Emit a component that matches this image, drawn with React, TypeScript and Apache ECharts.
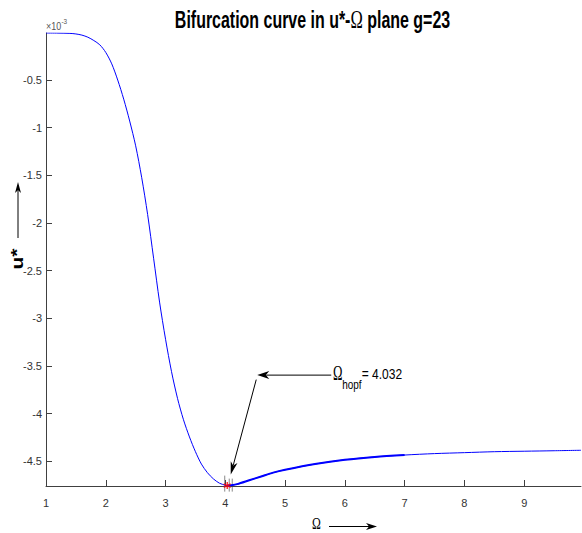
import React, { useEffect, useRef } from "react";
import * as echarts from "echarts";

// Bifurcation curve, u* in units of 1e-3
const omega = [
  1.0, 1.2, 1.4, 1.5, 1.6, 1.7, 1.8, 1.9, 2.0, 2.1, 2.2, 2.3, 2.4, 2.5, 2.6, 2.7,
  2.8, 2.9, 3.0, 3.1, 3.2, 3.3, 3.4, 3.5, 3.6, 3.7, 3.8, 3.9, 4.0, 4.032, 4.1,
  4.2, 4.4, 4.6, 4.8, 5.0, 5.5, 6.0, 6.5, 7.0, 7.5, 8.0, 8.5, 9.0, 9.5, 9.95,
];
const uStar = [
  -0.006, -0.007, -0.01, -0.016, -0.028, -0.05, -0.085, -0.13, -0.21, -0.33, -0.5,
  -0.7, -0.93, -1.19, -1.52, -1.91, -2.37, -2.83, -3.22, -3.56, -3.84, -4.065,
  -4.245, -4.4, -4.53, -4.62, -4.685, -4.73, -4.752, -4.756, -4.752, -4.74, -4.7,
  -4.66, -4.62, -4.59, -4.53, -4.485, -4.455, -4.435, -4.42, -4.41, -4.4, -4.395,
  -4.39, -4.385,
];
const thickFrom = 4.032;
const thickTo = 7.0;
const xTicks = [1, 2, 3, 4, 5, 6, 7, 8, 9];
const yTicks = [-4.5, -4, -3.5, -3, -2.5, -2, -1.5, -1, -0.5];
const hopfOmega = 4.032;
const hopfU = -4.756;
const hopfLabel = "= 4.032";

const X_MIN = 1;
const X_MAX = 9.95;
const Y_MIN = -4.76;
const Y_MAX = -0.006;

const SANS = '"Liberation Sans", Arial, Helvetica, sans-serif';
const NARROW = '"Liberation Sans Narrow", "Liberation Sans", Arial, sans-serif';
const SERIF = '"Liberation Serif", "DejaVu Serif", serif';
const AXIS_COLOR = "#404040";

function arrow(x1: number, y1: number, x2: number, y2: number, len: number, w: number): any[] {
  const dx = x2 - x1;
  const dy = y2 - y1;
  const d = Math.hypot(dx, dy);
  const ux = dx / d;
  const uy = dy / d;
  const bx = x2 - ux * len;
  const by = y2 - uy * len;
  const nx = -uy;
  const ny = ux;
  return [
    {
      type: "line",
      silent: true,
      shape: { x1, y1, x2: bx + ux * 3, y2: by + uy * 3 },
      style: { stroke: "#000", lineWidth: 1 },
    },
    {
      type: "polygon",
      silent: true,
      shape: {
        points: [
          [x2, y2],
          [bx + (nx * w) / 2, by + (ny * w) / 2],
          [x2 - ux * len * 0.72, y2 - uy * len * 0.72],
          [bx - (nx * w) / 2, by - (ny * w) / 2],
        ],
      },
      style: { fill: "#000" },
    },
  ];
}

function staticGraphics(): any[] {
  return [
    {
      type: "text",
      x: 312.5,
      y: 20,
      scaleX: 0.665,
      silent: true,
      style: {
        text: "{b|Bifurcation curve in u*-}{o|Ω}{b| plane g=23}",
        align: "center",
        verticalAlign: "middle",
        rich: {
          b: { fontFamily: SANS, fontSize: 24, fontWeight: "bold", fill: "#000" },
          o: { fontFamily: SERIF, fontSize: 25, fill: "#000" },
        },
      },
    },
    {
      type: "text",
      x: 46,
      y: 26,
      scaleX: 0.85,
      silent: true,
      style: { text: "×10", fontFamily: SANS, fontSize: 10.5, fill: "#555", align: "left", verticalAlign: "middle" },
    },
    {
      type: "text",
      x: 61.5,
      y: 21.5,
      scaleX: 0.85,
      silent: true,
      style: { text: "-3", fontFamily: SANS, fontSize: 7.5, fill: "#555", align: "left", verticalAlign: "middle" },
    },
    {
      type: "text",
      x: 17.5,
      y: 259,
      rotation: Math.PI / 2,
      scaleY: 0.8,
      silent: true,
      style: { text: "u*", fontFamily: SANS, fontSize: 21, fontWeight: "bold", fill: "#000", align: "center", verticalAlign: "middle" },
    },
    ...arrow(18, 238, 18, 182, 11, 6),
    {
      type: "text",
      x: 316.5,
      y: 523.5,
      scaleX: 0.7,
      silent: true,
      style: { text: "Ω", fontFamily: SERIF, fontSize: 17, fill: "#000", align: "center", verticalAlign: "middle" },
    },
    ...arrow(329, 526.5, 377, 526.5, 11, 7),
  ];
}

function annotationGraphics(hx: number, hy: number): any[] {
  return [
    {
      type: "text",
      x: hx + 110.5,
      y: hy - 112.5,
      scaleX: 0.58,
      silent: true,
      style: { text: "Ω", fontFamily: SERIF, fontSize: 22, fill: "#000", align: "center", verticalAlign: "middle" },
    },
    {
      type: "text",
      x: hx + 115,
      y: hy - 100.5,
      scaleX: 0.83,
      silent: true,
      style: { text: "hopf", fontFamily: SANS, fontSize: 12, fill: "#000", align: "left", verticalAlign: "middle" },
    },
    {
      type: "text",
      x: hx + 134.5,
      y: hy - 111.5,
      scaleX: 0.8,
      silent: true,
      style: { text: hopfLabel, fontFamily: SANS, fontSize: 15, fill: "#000", align: "left", verticalAlign: "middle" },
    },
    ...arrow(hx + 104, hy - 110.5, hx + 30, hy - 110.5, 12, 8),
    ...arrow(hx + 29, hy - 106, hx + 3.5, hy - 11, 13, 7),
    {
      type: "line",
      silent: true,
      shape: { x1: hx - 2.5, y1: hy - 10, x2: hx - 2.5, y2: hy + 6 },
      style: { stroke: "#888", lineWidth: 1 },
    },
    {
      type: "line",
      silent: true,
      shape: { x1: hx + 2, y1: hy - 7, x2: hx + 2, y2: hy + 6 },
      style: { stroke: "#888", lineWidth: 1 },
    },
    {
      type: "line",
      silent: true,
      shape: { x1: hx + 5, y1: hy - 7, x2: hx + 5, y2: hy + 6 },
      style: { stroke: "#888", lineWidth: 1 },
    },
  ];
}

export default function App() {
  const ref = useRef<HTMLDivElement>(null);

  useEffect(() => {
    if (!ref.current) return;
    const chart = echarts.init(ref.current, null, { renderer: "svg" });

    const curve = omega.map((x, i) => [x, uStar[i]]);
    const thick = omega
      .map((x, i) => [x, uStar[i]])
      .filter((p) => p[0] >= thickFrom && p[0] <= thickTo);

    chart.setOption({
      animation: false,
      backgroundColor: "#fff",
      grid: { left: 46, right: 1, top: 33, bottom: 47, containLabel: false, outerBoundsMode: "none" },
      xAxis: {
        type: "value",
        min: X_MIN,
        max: X_MAX,
        axisLine: { show: true, onZero: false, lineStyle: { color: AXIS_COLOR, width: 1 } },
        axisTick: { show: true, inside: true, length: 6, customValues: xTicks, lineStyle: { color: AXIS_COLOR } },
        axisLabel: {
          customValues: xTicks,
          margin: 11,
          fontFamily: NARROW,
          fontSize: 11,
          color: "#333",
          formatter: (v: number) => String(v),
        },
        splitLine: { show: false },
      },
      yAxis: {
        type: "value",
        min: Y_MIN,
        max: Y_MAX,
        axisLine: { show: true, onZero: false, lineStyle: { color: AXIS_COLOR, width: 1 } },
        axisTick: { show: true, inside: true, length: 6, customValues: yTicks, lineStyle: { color: AXIS_COLOR } },
        axisLabel: {
          customValues: yTicks,
          margin: 4,
          fontFamily: NARROW,
          fontSize: 11,
          color: "#333",
          formatter: (v: number) => String(v),
        },
        splitLine: { show: false },
      },
      series: [
        {
          type: "line",
          data: curve,
          showSymbol: false,
          smooth: 0.3,
          lineStyle: { color: "#0000ff", width: 1 },
          z: 2,
        },
        {
          type: "line",
          data: thick,
          showSymbol: false,
          smooth: 0.3,
          lineStyle: { color: "#0000ff", width: 2 },
          z: 3,
        },
        {
          type: "scatter",
          data: [[hopfOmega, hopfU]],
          symbol: "path://M0,-5L0,5M-4.3,-2.5L4.3,2.5M-4.3,2.5L4.3,-2.5",
          symbolSize: 7,
          itemStyle: { color: "transparent", borderColor: "#ff0000", borderWidth: 1.5 },
          z: 4,
        },
      ],
      graphic: staticGraphics(),
    });

    const p = chart.convertToPixel({ gridIndex: 0 }, [hopfOmega, hopfU]) as number[];
    chart.setOption({ graphic: [...staticGraphics(), ...annotationGraphics(p[0], p[1])] });

    return () => chart.dispose();
  }, []);

  return (
    <div
      ref={ref}
      style={{ position: "fixed", left: 0, top: 0, width: 582, height: 533, background: "#fff" }}
    />
  );
}
